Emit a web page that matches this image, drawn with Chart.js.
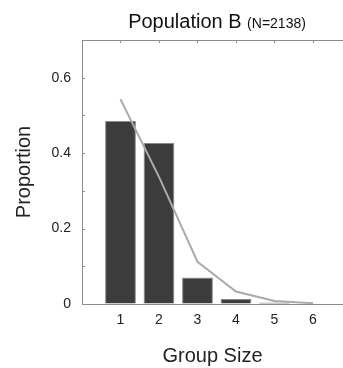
<!DOCTYPE html>
<html>
<head>
<meta charset="utf-8">
<script src="https://cdn.jsdelivr.net/npm/chart.js@4"></script>
<style>
  html, body { margin: 0; padding: 0; background: #fff; }
  #wrap { width: 343px; height: 368px; }
</style>
</head>
<body>
<div id="wrap"><canvas id="myChart"></canvas></div>
<script>
// group sizes and observed / expected proportions
var groupSizes = [1, 2, 3, 4, 5, 6];
var observed = [0.485, 0.427, 0.070, 0.013, 0.004, 0.001];
var expected = [0.543, 0.337, 0.112, 0.033, 0.008, 0.002];
var yLabels = { '0': '0', '0.2': '0.2', '0.4': '0.4', '0.6': '0.6' };

var axisColor = '#8c8c8c';
var barColor = '#3c3c3c';
var lineColor = '#ababab';
var font = 'Liberation Sans, Arial, sans-serif';

// top border, inner tick marks and the two-size title
var frame = {
    id: 'frame',
    afterDraw(chart) {
        var ctx = chart.ctx;
        var area = chart.chartArea;
        var xs = chart.scales.x, ys = chart.scales.y;
        ctx.save();
        ctx.strokeStyle = axisColor;
        ctx.lineWidth = 1;
        ctx.beginPath();
        ctx.moveTo(area.left, area.top + 0.5);
        ctx.lineTo(chart.width, area.top + 0.5);
        groupSizes.forEach(g => {
            var px = Math.round(xs.getPixelForValue(g)) + 0.5;
            ctx.moveTo(px, area.top);
            ctx.lineTo(px, area.top + 3);
        });
        for (var v = 0.1; v < 0.7; v += 0.1) {
            var py = Math.round(ys.getPixelForValue(v)) + 0.5;
            ctx.moveTo(area.left, py);
            ctx.lineTo(area.left + 3, py);
        }
        ctx.stroke();

        ctx.fillStyle = '#111';
        ctx.textBaseline = 'alphabetic';
        ctx.font = '20px ' + font;
        var big = 'Population B ';
        var small = '(N=2138)';
        var w1 = ctx.measureText(big).width;
        ctx.font = '14px ' + font;
        var w2 = ctx.measureText(small).width;
        var x0 = 217 - (w1 + w2) / 2;
        ctx.font = '20px ' + font;
        ctx.fillText(big, x0, 28);
        ctx.font = '14px ' + font;
        ctx.fillText(small, x0 + w1, 28);
        ctx.restore();
    }
};

const data = {
    datasets: [
        {
            type: 'line',
            label: 'expected',
            data: groupSizes.map((g, i) => ({ x: g, y: expected[i] })),
            borderColor: lineColor,
            borderWidth: 2,
            pointRadius: 0,
            tension: 0,
            order: 0
        },
        {
            type: 'bar',
            label: 'observed',
            data: groupSizes.map((g, i) => ({ x: g, y: observed[i] })),
            backgroundColor: barColor,
            borderColor: '#8a8a8a',
            borderWidth: 1,
            barPercentage: 0.8,
            categoryPercentage: 1.0,
            order: 1
        }
    ]
};

const config = {
    type: 'bar',
    data: data,
    options: {
        responsive: true,
        maintainAspectRatio: false,
        animation: false,
        layout: { padding: { top: 40, right: 0, left: 0, bottom: 0 } },
        plugins: {
            legend: { display: false },
            tooltip: { enabled: false },
            title: { display: false }
        },
        scales: {
            x: {
                type: 'linear',
                offset: false,
                min: 0,
                max: 6.78,
                afterBuildTicks: s => { s.ticks = groupSizes.map(g => ({ value: g })); },
                afterFit: s => { s.height = 64; s.paddingRight = 0; },
                grid: { drawOnChartArea: false, drawTicks: false, offset: false },
                border: { color: axisColor, width: 1 },
                ticks: {
                    autoSkip: false,
                    padding: 8,
                    color: '#222',
                    font: { family: font, size: 14 },
                    callback: v => String(v)
                },
                title: {
                    display: true,
                    text: 'Group Size',
                    color: '#222',
                    font: { family: font, size: 20 },
                    padding: { top: 16, bottom: 0 }
                }
            },
            y: {
                min: 0,
                max: 0.7,
                afterFit: s => { s.width = 82; },
                grid: { drawOnChartArea: false, drawTicks: false },
                border: { color: axisColor, width: 1 },
                ticks: {
                    stepSize: 0.1,
                    padding: 11,
                    color: '#222',
                    font: { family: font, size: 14 },
                    callback: v => yLabels[String(Math.round(v * 10) / 10)] || ''
                },
                title: {
                    display: true,
                    text: 'Proportion',
                    color: '#222',
                    font: { family: font, size: 20 },
                    padding: { top: 12, bottom: 0 }
                }
            }
        }
    },
    plugins: [frame]
};

var myChart = new Chart(document.getElementById('myChart'), config);
</script>
</body>
</html>
